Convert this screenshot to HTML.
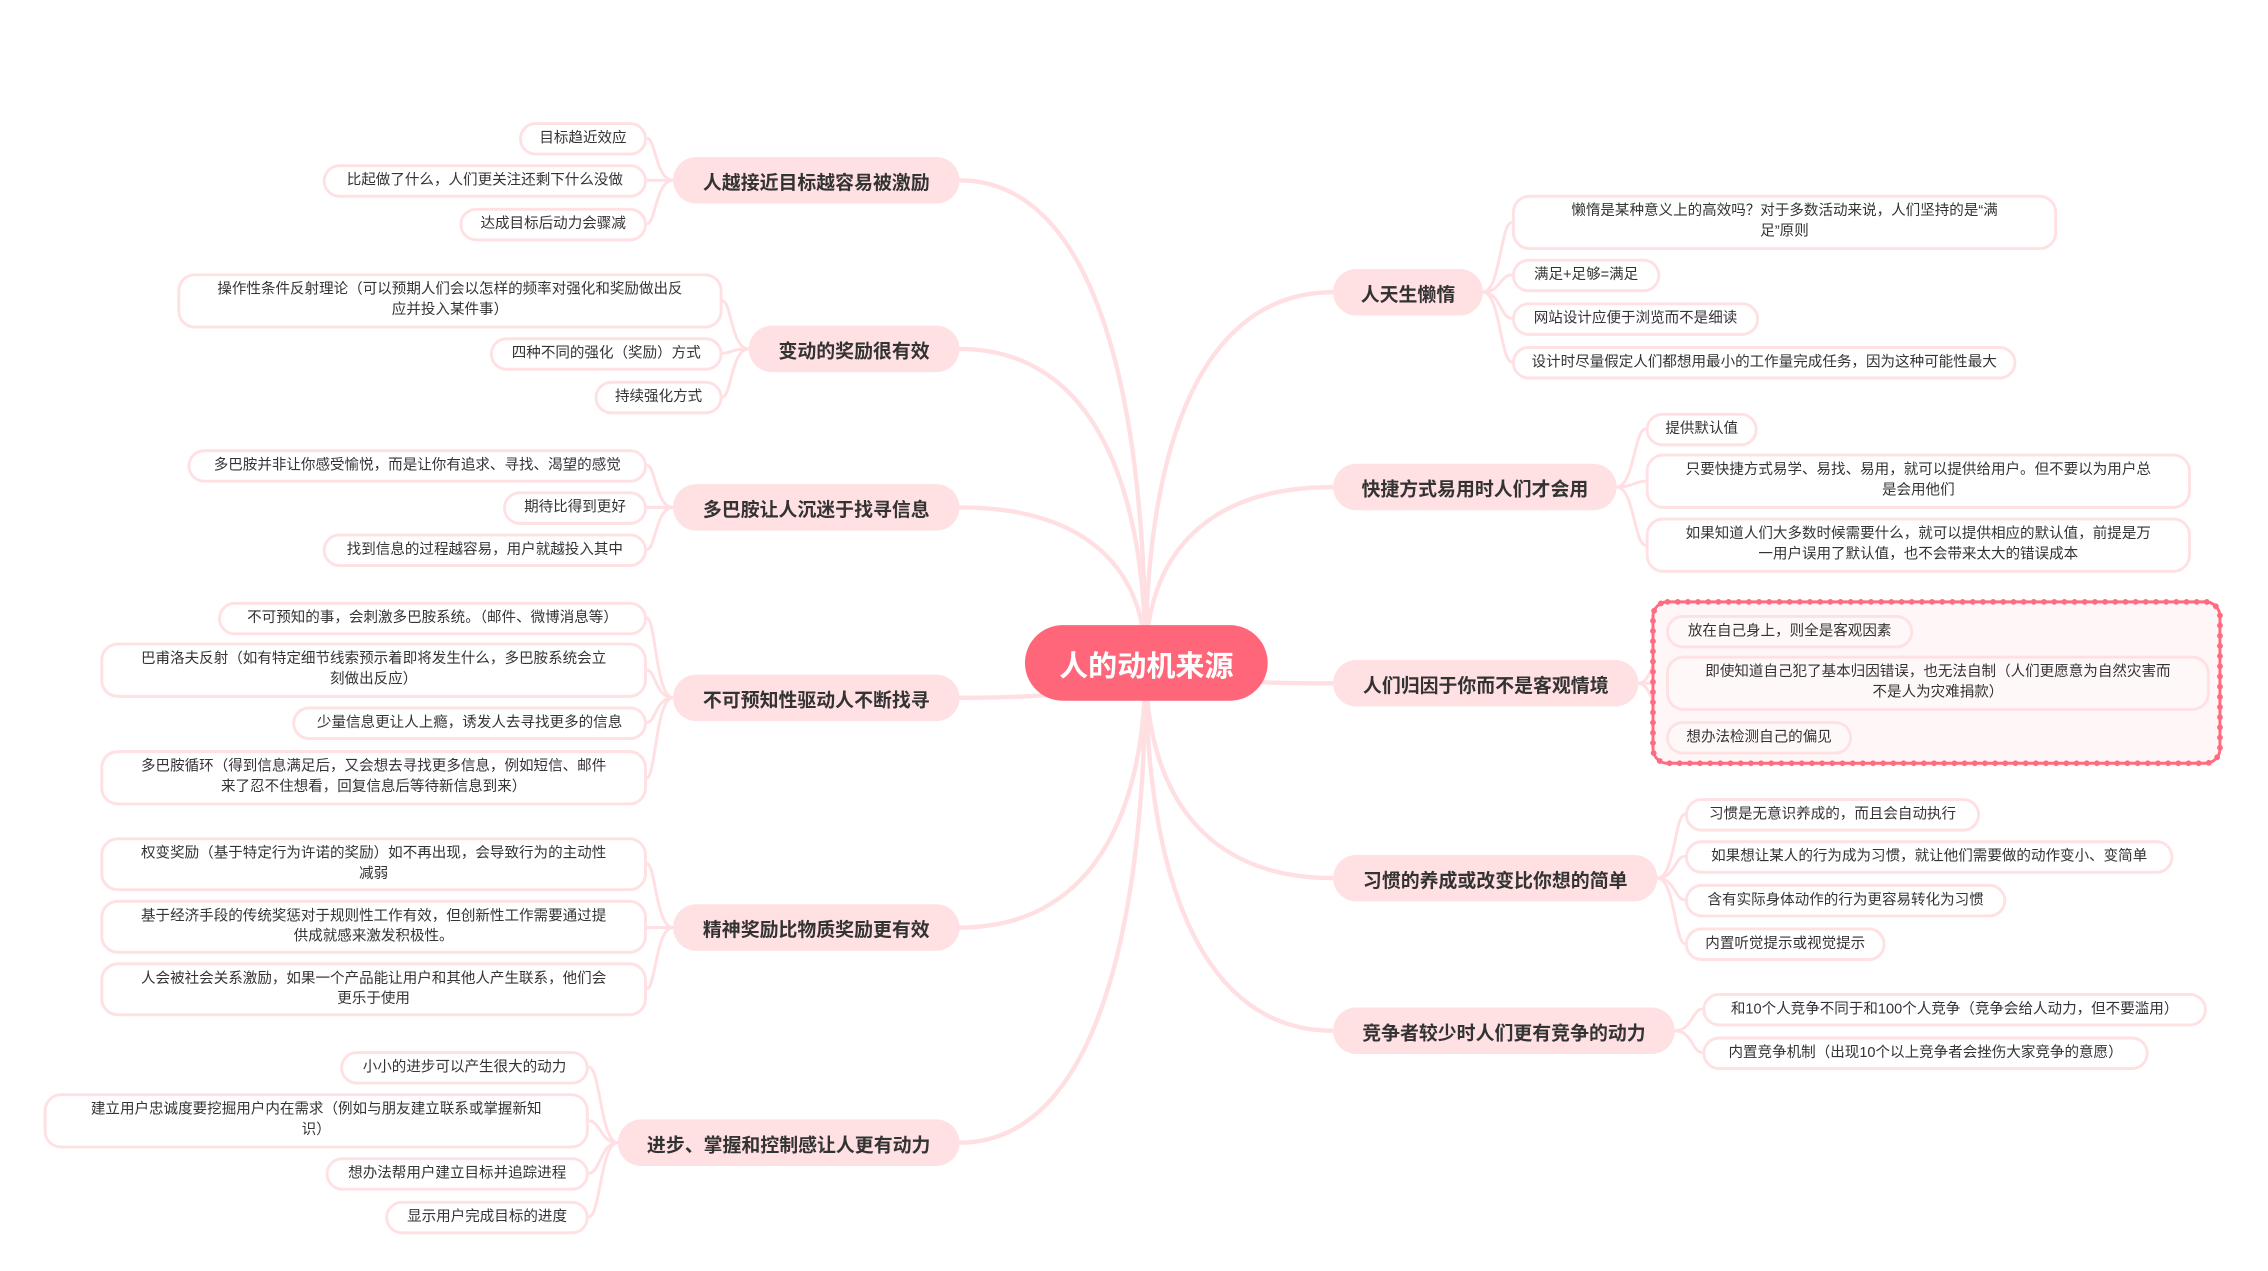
<!DOCTYPE html>
<html><head><meta charset="utf-8"><style>
html,body{margin:0;padding:0;background:#fff;width:2268px;height:1270px;overflow:hidden}
#w{position:absolute;left:0;top:0;width:1560px;height:874px;transform:scale(1.4538);transform-origin:0 0;font-family:"Liberation Sans","Noto Sans CJK SC",sans-serif}
.n{position:absolute;box-sizing:border-box;display:flex;align-items:center;justify-content:center;text-align:center}
.c{background:#ff6679;color:#fff;font-weight:bold;font-size:20px;border-radius:27px}
.b{background:#ffe0e3;color:#333;font-weight:bold;font-size:13px;border-radius:16px}
.l{background:#fff;border:2px solid #ffe0e3;color:#333;font-size:10px;border-radius:12px;line-height:14px;padding:0 8px}
.m{padding:0 22px}
.m2{padding:0 28px}
.g .l{background:#fff8f8}
svg{position:absolute;left:0;top:0}
</style></head><body><div id="w">
<svg width="1560" height="874" id="s">
<rect x="1137" y="414" width="390" height="111" rx="10" fill="#fff7f7" stroke="#ff6b7f" stroke-width="2"/>
<rect x="1137" y="414" width="390" height="111" rx="10" fill="none" stroke="#ff6b7f" stroke-width="4" stroke-dasharray="0 7" stroke-linecap="round"/>
</svg>
<div class="n c" style="left:705px;top:430px;width:167px;height:52px">人的动机来源</div>

<div class="n b" style="left:463px;top:108px;width:197px;height:32px">人越接近目标越容易被激励</div>
<div class="n b" style="left:515px;top:224px;width:145px;height:32px">变动的奖励很有效</div>
<div class="n b" style="left:463px;top:333px;width:197px;height:32px">多巴胺让人沉迷于找寻信息</div>
<div class="n b" style="left:463px;top:464px;width:197px;height:32px">不可预知性驱动人不断找寻</div>
<div class="n b" style="left:463px;top:622px;width:197px;height:32px">精神奖励比物质奖励更有效</div>
<div class="n b" style="left:425px;top:770px;width:235px;height:32px">进步、掌握和控制感让人更有动力</div>

<div class="n b" style="left:917px;top:185px;width:103px;height:32px">人天生懒惰</div>
<div class="n b" style="left:917px;top:319px;width:195px;height:32px">快捷方式易用时人们才会用</div>
<div class="n b" style="left:917px;top:454px;width:210px;height:32px">人们归因于你而不是客观情境</div>
<div class="n b" style="left:917px;top:588px;width:223px;height:32px">习惯的养成或改变比你想的简单</div>
<div class="n b" style="left:917px;top:693px;width:235px;height:32px">竞争者较少时人们更有竞争的动力</div>

<div class="n l" style="left:357px;top:84px;width:88px;height:23px">目标趋近效应</div>
<div class="n l" style="left:222px;top:113px;width:223px;height:23px">比起做了什么，人们更关注还剩下什么没做</div>
<div class="n l" style="left:316px;top:143px;width:129px;height:23px">达成目标后动力会骤减</div>

<div class="n l m" style="left:122px;top:188px;width:375px;height:38px">操作性条件反射理论（可以预期人们会以怎样的频率对强化和奖励做出反应并投入某件事）</div>
<div class="n l" style="left:337px;top:232px;width:160px;height:23px">四种不同的强化（奖励）方式</div>
<div class="n l" style="left:409px;top:262px;width:88px;height:23px">持续强化方式</div>

<div class="n l" style="left:129px;top:309px;width:316px;height:23px">多巴胺并非让你感受愉悦，而是让你有追求、寻找、渴望的感觉</div>
<div class="n l" style="left:346px;top:338px;width:99px;height:23px">期待比得到更好</div>
<div class="n l" style="left:222px;top:367px;width:223px;height:23px">找到信息的过程越容易，用户就越投入其中</div>

<div class="n l" style="left:150px;top:414px;width:295px;height:23px">不可预知的事，会刺激多巴胺系统。（邮件、微博消息等）</div>
<div class="n l m" style="left:69px;top:442px;width:376px;height:38px">巴甫洛夫反射（如有特定细节线索预示着即将发生什么，多巴胺系统会立刻做出反应）</div>
<div class="n l" style="left:201px;top:486px;width:244px;height:23px">少量信息更让人上瘾，诱发人去寻找更多的信息</div>
<div class="n l m" style="left:69px;top:516px;width:376px;height:38px">多巴胺循环（得到信息满足后，又会想去寻找更多信息，例如短信、邮件来了忍不住想看，回复信息后等待新信息到来）</div>

<div class="n l m" style="left:69px;top:576px;width:376px;height:37px">权变奖励（基于特定行为许诺的奖励）如不再出现，会导致行为的主动性减弱</div>
<div class="n l m" style="left:69px;top:619px;width:376px;height:37px">基于经济手段的传统奖惩对于规则性工作有效，但创新性工作需要通过提供成就感来激发积极性。</div>
<div class="n l m" style="left:69px;top:662px;width:376px;height:37px">人会被社会关系激励，如果一个产品能让用户和其他人产生联系，他们会更乐于使用</div>

<div class="n l" style="left:234px;top:723px;width:171px;height:23px">小小的进步可以产生很大的动力</div>
<div class="n l m2" style="left:30px;top:752px;width:375px;height:38px">建立用户忠诚度要挖掘用户内在需求（例如与朋友建立联系或掌握新知识）</div>
<div class="n l" style="left:224px;top:796px;width:181px;height:23px">想办法帮用户建立目标并追踪进程</div>
<div class="n l" style="left:265px;top:826px;width:140px;height:23px">显示用户完成目标的进度</div>

<div class="n l m2" style="left:1040px;top:134px;width:375px;height:38px">懒惰是某种意义上的高效吗？对于多数活动来说，人们坚持的是“满足”原则</div>
<div class="n l" style="left:1040px;top:178px;width:102px;height:23px">满足+足够=满足</div>
<div class="n l" style="left:1040px;top:208px;width:170px;height:23px">网站设计应便于浏览而不是细读</div>
<div class="n l" style="left:1040px;top:238px;width:347px;height:23px">设计时尽量假定人们都想用最小的工作量完成任务，因为这种可能性最大</div>

<div class="n l" style="left:1132px;top:284px;width:77px;height:23px">提供默认值</div>
<div class="n l m" style="left:1132px;top:312px;width:375px;height:38px">只要快捷方式易学、易找、易用，就可以提供给用户。但不要以为用户总是会用他们</div>
<div class="n l m" style="left:1132px;top:356px;width:375px;height:38px">如果知道人们大多数时候需要什么，就可以提供相应的默认值，前提是万一用户误用了默认值，也不会带来太大的错误成本</div>

<div class="g">
<div class="n l" style="left:1146px;top:423px;width:170px;height:23px">放在自己身上，则全是客观因素</div>
<div class="n l m" style="left:1146px;top:451px;width:374px;height:38px">即使知道自己犯了基本归因错误，也无法自制（人们更愿意为自然灾害而不是人为灾难捐款）</div>
<div class="n l" style="left:1146px;top:496px;width:128px;height:23px">想办法检测自己的偏见</div>
</div>

<div class="n l" style="left:1159px;top:549px;width:203px;height:23px">习惯是无意识养成的，而且会自动执行</div>
<div class="n l" style="left:1159px;top:578px;width:336px;height:23px">如果想让某人的行为成为习惯，就让他们需要做的动作变小、变简单</div>
<div class="n l" style="left:1159px;top:608px;width:221px;height:23px">含有实际身体动作的行为更容易转化为习惯</div>
<div class="n l" style="left:1159px;top:638px;width:138px;height:23px">内置听觉提示或视觉提示</div>

<div class="n l" style="left:1171px;top:683px;width:347px;height:23px">和10个人竞争不同于和100个人竞争（竞争会给人动力，但不要滥用）</div>
<div class="n l" style="left:1171px;top:713px;width:307px;height:23px">内置竞争机制（出现10个以上竞争者会挫伤大家竞争的意愿）</div>
</div>
<script>
var s=document.getElementById('s'),P=[];
function p(d,w){P.push('<path d="'+d+'" fill="none" stroke="#ffdfe2" stroke-width="'+w+'"/>');}
var cx=788,cy=456;
[[660,124],[660,240],[660,349],[660,480],[660,638],[660,786]].forEach(function(a){p('M'+cx+' '+cy+' C'+cx+' '+(cy+(a[1]-cy)*0.6)+' '+(cx-40)+' '+a[1]+' '+a[0]+' '+a[1],3);});
[[917,201],[917,335],[917,470],[917,604],[917,709]].forEach(function(a){p('M'+cx+' '+cy+' C'+cx+' '+(cy+(a[1]-cy)*0.6)+' '+(cx+40)+' '+a[1]+' '+a[0]+' '+a[1],3);});
function L(bx,by,lx,ys,dir){ys.forEach(function(y){var m=bx+dir*12;p('M'+bx+' '+by+' C'+m+' '+by+' '+m+' '+y+' '+lx+' '+y,2);});}
L(463,124,445,[95,124,154],-1);
L(515,240,497,[207,243,273],-1);
L(463,349,445,[320,349,378],-1);
L(463,480,445,[425,461,497,535],-1);
L(463,638,445,[594,638,680],-1);
L(425,786,405,[734,771,807,837],-1);
L(1020,201,1040,[153,189,219,249],1);
L(1112,335,1132,[295,331,375],1);
L(1127,470,1146,[434,470,507],1);
L(1140,604,1159,[560,589,619,649],1);
L(1152,709,1171,[694,724],1);
s.insertAdjacentHTML('afterbegin',P.join(''));
</script>
</body></html>
